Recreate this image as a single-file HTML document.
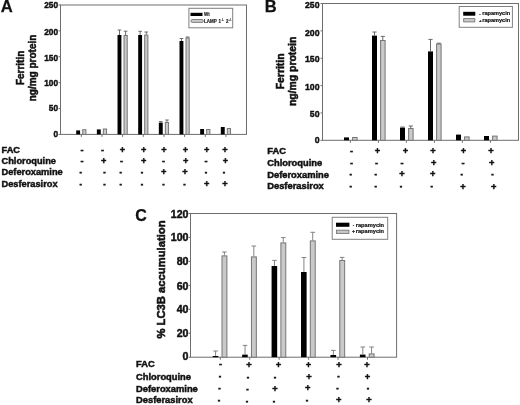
<!DOCTYPE html>
<html lang="en">
<head>
<meta charset="utf-8">
<title>Figure</title>
<style>
html,body{margin:0;padding:0;background:#fff;}
body{width:520px;height:405px;overflow:hidden;}
svg{display:block;filter:blur(0.35px);}
svg text{font-family:"Liberation Sans", Arial, Helvetica, sans-serif;fill:#111;}
</style>
</head>
<body>
<svg width="520" height="405" viewBox="0 0 520 405">
<rect x="0" y="0" width="520" height="405" fill="#fff"/>
<rect x="60.5" y="5" width="186.00" height="129.40" fill="none" stroke="#6e6e6e" stroke-width="1"/>
<line x1="58.5" y1="134.40" x2="60.5" y2="134.40" stroke="#6e6e6e" stroke-width="1"/>
<text transform="translate(58.10 137.03) scale(1 1.12)" font-size="8.3" font-weight="bold" text-anchor="end" stroke="#111" stroke-width="0.4">0</text>
<line x1="58.5" y1="108.52" x2="60.5" y2="108.52" stroke="#6e6e6e" stroke-width="1"/>
<text transform="translate(58.10 111.43) scale(1 1.12)" font-size="8.3" font-weight="bold" text-anchor="end" stroke="#111" stroke-width="0.4">50</text>
<line x1="58.5" y1="82.64" x2="60.5" y2="82.64" stroke="#6e6e6e" stroke-width="1"/>
<text transform="translate(58.10 86.23) scale(1 1.12)" font-size="8.3" font-weight="bold" text-anchor="end" stroke="#111" stroke-width="0.4">100</text>
<line x1="58.5" y1="56.76" x2="60.5" y2="56.76" stroke="#6e6e6e" stroke-width="1"/>
<text transform="translate(58.10 60.63) scale(1 1.12)" font-size="8.3" font-weight="bold" text-anchor="end" stroke="#111" stroke-width="0.4">150</text>
<line x1="58.5" y1="30.88" x2="60.5" y2="30.88" stroke="#6e6e6e" stroke-width="1"/>
<text transform="translate(58.10 34.93) scale(1 1.12)" font-size="8.3" font-weight="bold" text-anchor="end" stroke="#111" stroke-width="0.4">200</text>
<line x1="58.5" y1="5.00" x2="60.5" y2="5.00" stroke="#6e6e6e" stroke-width="1"/>
<text transform="translate(58.10 8.03) scale(1 1.12)" font-size="8.3" font-weight="bold" text-anchor="end" stroke="#111" stroke-width="0.4">250</text>
<line x1="81.30" y1="134.4" x2="81.30" y2="136.9" stroke="#6e6e6e" stroke-width="1"/>
<rect x="76.20" y="130.40" width="3.90" height="4.00" fill="#000"/>
<rect x="82.70" y="129.70" width="3.20" height="4.70" fill="#c9c9c9" stroke="#767676" stroke-width="1"/>
<line x1="101.96" y1="134.4" x2="101.96" y2="136.9" stroke="#6e6e6e" stroke-width="1"/>
<rect x="96.86" y="129.40" width="3.90" height="5.00" fill="#000"/>
<rect x="103.36" y="129.00" width="3.20" height="5.40" fill="#c9c9c9" stroke="#767676" stroke-width="1"/>
<line x1="122.62" y1="134.4" x2="122.62" y2="136.9" stroke="#6e6e6e" stroke-width="1"/>
<rect x="117.52" y="35.00" width="3.90" height="99.40" fill="#000"/>
<rect x="124.02" y="35.50" width="3.20" height="98.90" fill="#c9c9c9" stroke="#767676" stroke-width="1"/>
<path d="M119.47 35.00V30.00M117.67 30.00H121.27" stroke="#5c5c5c" stroke-width="0.9" fill="none"/>
<path d="M125.62 35.00V31.20M123.82 31.20H127.42" stroke="#5c5c5c" stroke-width="0.9" fill="none"/>
<line x1="143.28" y1="134.4" x2="143.28" y2="136.9" stroke="#6e6e6e" stroke-width="1"/>
<rect x="138.18" y="35.00" width="3.90" height="99.40" fill="#000"/>
<rect x="144.68" y="35.10" width="3.20" height="99.30" fill="#c9c9c9" stroke="#767676" stroke-width="1"/>
<path d="M140.13 35.00V31.30M138.33 31.30H141.93" stroke="#5c5c5c" stroke-width="0.9" fill="none"/>
<path d="M146.28 34.60V32.00M144.48 32.00H148.08" stroke="#5c5c5c" stroke-width="0.9" fill="none"/>
<line x1="163.94" y1="134.4" x2="163.94" y2="136.9" stroke="#6e6e6e" stroke-width="1"/>
<rect x="158.84" y="122.60" width="3.90" height="11.80" fill="#000"/>
<rect x="165.34" y="122.50" width="3.20" height="11.90" fill="#c9c9c9" stroke="#767676" stroke-width="1"/>
<path d="M160.79 122.60V121.60M158.99 121.60H162.59" stroke="#5c5c5c" stroke-width="0.9" fill="none"/>
<path d="M166.94 122.00V120.00M165.14 120.00H168.74" stroke="#5c5c5c" stroke-width="0.9" fill="none"/>
<line x1="184.60" y1="134.4" x2="184.60" y2="136.9" stroke="#6e6e6e" stroke-width="1"/>
<rect x="179.50" y="41.00" width="3.90" height="93.40" fill="#000"/>
<rect x="186.00" y="38.00" width="3.20" height="96.40" fill="#c9c9c9" stroke="#767676" stroke-width="1"/>
<path d="M181.45 41.00V38.50M179.65 38.50H183.25" stroke="#5c5c5c" stroke-width="0.9" fill="none"/>
<path d="M187.60 37.50V37.00M185.80 37.00H189.40" stroke="#5c5c5c" stroke-width="0.9" fill="none"/>
<line x1="205.26" y1="134.4" x2="205.26" y2="136.9" stroke="#6e6e6e" stroke-width="1"/>
<rect x="200.16" y="129.00" width="3.90" height="5.40" fill="#000"/>
<rect x="206.66" y="129.50" width="3.20" height="4.90" fill="#c9c9c9" stroke="#767676" stroke-width="1"/>
<line x1="225.92" y1="134.4" x2="225.92" y2="136.9" stroke="#6e6e6e" stroke-width="1"/>
<rect x="220.82" y="127.00" width="3.90" height="7.40" fill="#000"/>
<rect x="227.32" y="128.50" width="3.20" height="5.90" fill="#c9c9c9" stroke="#767676" stroke-width="1"/>
<rect x="188.9" y="8.3" width="43.8" height="19.5" fill="#fff" stroke="#808080" stroke-width="1"/>
<rect x="190.5" y="12.8" width="12" height="3.2" fill="#000"/>
<rect x="191" y="19.5" width="12.3" height="2.9" rx="1.2" fill="#c9c9c9" stroke="#767676" stroke-width="0.9"/>
<text transform="translate(203.90 16.20)" font-size="4.5" font-weight="bold" text-anchor="start" stroke="#111" stroke-width="0.12">Wt</text>
<text font-size="4.5" font-weight="bold" stroke="#111" stroke-width="0.12"><tspan x="203.9" y="22.6">LAMP</tspan><tspan x="218.6" y="22.6">1</tspan><tspan x="221.4" y="21.0" font-size="2.8">-/-</tspan><tspan x="226" y="22.6">2</tspan><tspan x="228.8" y="21.0" font-size="2.8">-/-</tspan></text>
<text transform="translate(24.20 67.90) rotate(-90)" font-size="10" font-weight="bold" text-anchor="middle" stroke="#111" stroke-width="0.5">Ferritin</text>
<text transform="translate(36.30 68.00) rotate(-90)" font-size="10" font-weight="bold" text-anchor="middle" stroke="#111" stroke-width="0.5">ng/mg protein</text>
<text transform="translate(0.75 12.00)" font-size="16.6" font-weight="bold" text-anchor="start" stroke="#111" stroke-width="0.25">A</text>
<text transform="translate(1.50 152.50)" font-size="9.25" font-weight="bold" text-anchor="start" stroke="#111" stroke-width="0.46">FAC</text>
<text transform="translate(1.50 164.05)" font-size="9.25" font-weight="bold" text-anchor="start" stroke="#111" stroke-width="0.46">Chloroquine</text>
<text transform="translate(1.50 175.45)" font-size="9.25" font-weight="bold" text-anchor="start" stroke="#111" stroke-width="0.46">Deferoxamine</text>
<text transform="translate(1.50 187.45)" font-size="9.25" font-weight="bold" text-anchor="start" stroke="#111" stroke-width="0.46">Desferasirox</text>
<text transform="translate(82.05 153.04)" font-size="9.2" font-weight="bold" text-anchor="middle" stroke="#111" stroke-width="0.45">-</text>
<text transform="translate(102.65 153.04)" font-size="9.2" font-weight="bold" text-anchor="middle" stroke="#111" stroke-width="0.45">-</text>
<text transform="translate(122.45 152.93)" font-size="9.2" font-weight="bold" text-anchor="middle" stroke="#111" stroke-width="0.45">+</text>
<text transform="translate(143.65 152.93)" font-size="9.2" font-weight="bold" text-anchor="middle" stroke="#111" stroke-width="0.45">+</text>
<text transform="translate(164.05 152.93)" font-size="9.2" font-weight="bold" text-anchor="middle" stroke="#111" stroke-width="0.45">+</text>
<text transform="translate(185.45 152.93)" font-size="9.2" font-weight="bold" text-anchor="middle" stroke="#111" stroke-width="0.45">+</text>
<text transform="translate(206.65 152.93)" font-size="9.2" font-weight="bold" text-anchor="middle" stroke="#111" stroke-width="0.45">+</text>
<text transform="translate(225.05 152.93)" font-size="9.2" font-weight="bold" text-anchor="middle" stroke="#111" stroke-width="0.45">+</text>
<text transform="translate(82.05 164.44)" font-size="9.2" font-weight="bold" text-anchor="middle" stroke="#111" stroke-width="0.45">-</text>
<text transform="translate(103.65 164.33)" font-size="9.2" font-weight="bold" text-anchor="middle" stroke="#111" stroke-width="0.45">+</text>
<text transform="translate(121.65 164.44)" font-size="9.2" font-weight="bold" text-anchor="middle" stroke="#111" stroke-width="0.45">-</text>
<text transform="translate(143.65 164.33)" font-size="9.2" font-weight="bold" text-anchor="middle" stroke="#111" stroke-width="0.45">+</text>
<text transform="translate(163.65 164.44)" font-size="9.2" font-weight="bold" text-anchor="middle" stroke="#111" stroke-width="0.45">-</text>
<text transform="translate(185.65 164.33)" font-size="9.2" font-weight="bold" text-anchor="middle" stroke="#111" stroke-width="0.45">+</text>
<text transform="translate(206.05 164.44)" font-size="9.2" font-weight="bold" text-anchor="middle" stroke="#111" stroke-width="0.45">-</text>
<text transform="translate(225.45 164.33)" font-size="9.2" font-weight="bold" text-anchor="middle" stroke="#111" stroke-width="0.45">+</text>
<text transform="translate(80.64 174.85) scale(0.8 1.0)" font-size="9.2" font-weight="bold" text-anchor="middle" stroke="#111" stroke-width="0.5">-</text>
<text transform="translate(104.44 174.85) scale(0.8 1.0)" font-size="9.2" font-weight="bold" text-anchor="middle" stroke="#111" stroke-width="0.5">-</text>
<text transform="translate(120.64 174.85) scale(0.8 1.0)" font-size="9.2" font-weight="bold" text-anchor="middle" stroke="#111" stroke-width="0.5">-</text>
<text transform="translate(142.04 174.85) scale(0.8 1.0)" font-size="9.2" font-weight="bold" text-anchor="middle" stroke="#111" stroke-width="0.5">-</text>
<text transform="translate(163.65 175.23)" font-size="9.2" font-weight="bold" text-anchor="middle" stroke="#111" stroke-width="0.45">+</text>
<text transform="translate(185.05 175.23)" font-size="9.2" font-weight="bold" text-anchor="middle" stroke="#111" stroke-width="0.45">+</text>
<text transform="translate(206.04 174.85) scale(0.8 1.0)" font-size="9.2" font-weight="bold" text-anchor="middle" stroke="#111" stroke-width="0.5">-</text>
<text transform="translate(224.04 174.85) scale(0.8 1.0)" font-size="9.2" font-weight="bold" text-anchor="middle" stroke="#111" stroke-width="0.5">-</text>
<text transform="translate(80.64 187.05) scale(0.8 1.0)" font-size="9.2" font-weight="bold" text-anchor="middle" stroke="#111" stroke-width="0.5">-</text>
<text transform="translate(104.44 187.05) scale(0.8 1.0)" font-size="9.2" font-weight="bold" text-anchor="middle" stroke="#111" stroke-width="0.5">-</text>
<text transform="translate(120.64 187.05) scale(0.8 1.0)" font-size="9.2" font-weight="bold" text-anchor="middle" stroke="#111" stroke-width="0.5">-</text>
<text transform="translate(142.04 187.05) scale(0.8 1.0)" font-size="9.2" font-weight="bold" text-anchor="middle" stroke="#111" stroke-width="0.5">-</text>
<text transform="translate(163.44 187.05) scale(0.8 1.0)" font-size="9.2" font-weight="bold" text-anchor="middle" stroke="#111" stroke-width="0.5">-</text>
<text transform="translate(184.44 187.05) scale(0.8 1.0)" font-size="9.2" font-weight="bold" text-anchor="middle" stroke="#111" stroke-width="0.5">-</text>
<text transform="translate(206.65 187.43)" font-size="9.2" font-weight="bold" text-anchor="middle" stroke="#111" stroke-width="0.45">+</text>
<text transform="translate(225.05 187.43)" font-size="9.2" font-weight="bold" text-anchor="middle" stroke="#111" stroke-width="0.45">+</text>
<rect x="322.5" y="3.5" width="196.00" height="136.80" fill="none" stroke="#6e6e6e" stroke-width="1"/>
<line x1="320.5" y1="140.30" x2="322.5" y2="140.30" stroke="#6e6e6e" stroke-width="1"/>
<text transform="translate(319.50 142.63) scale(1 1.1)" font-size="8.7" font-weight="bold" text-anchor="end" stroke="#111" stroke-width="0.4">0</text>
<line x1="320.5" y1="112.94" x2="322.5" y2="112.94" stroke="#6e6e6e" stroke-width="1"/>
<text transform="translate(319.50 117.03) scale(1 1.1)" font-size="8.7" font-weight="bold" text-anchor="end" stroke="#111" stroke-width="0.4">50</text>
<line x1="320.5" y1="85.58" x2="322.5" y2="85.58" stroke="#6e6e6e" stroke-width="1"/>
<text transform="translate(319.50 90.03) scale(1 1.1)" font-size="8.7" font-weight="bold" text-anchor="end" stroke="#111" stroke-width="0.4">100</text>
<line x1="320.5" y1="58.22" x2="322.5" y2="58.22" stroke="#6e6e6e" stroke-width="1"/>
<text transform="translate(319.50 62.33) scale(1 1.1)" font-size="8.7" font-weight="bold" text-anchor="end" stroke="#111" stroke-width="0.4">150</text>
<line x1="320.5" y1="30.86" x2="322.5" y2="30.86" stroke="#6e6e6e" stroke-width="1"/>
<text transform="translate(319.50 36.33) scale(1 1.1)" font-size="8.7" font-weight="bold" text-anchor="end" stroke="#111" stroke-width="0.4">200</text>
<line x1="320.5" y1="3.50" x2="322.5" y2="3.50" stroke="#6e6e6e" stroke-width="1"/>
<text transform="translate(319.50 7.83) scale(1 1.1)" font-size="8.7" font-weight="bold" text-anchor="end" stroke="#111" stroke-width="0.4">250</text>
<line x1="350.40" y1="140.3" x2="350.40" y2="142.8" stroke="#6e6e6e" stroke-width="1"/>
<rect x="344.00" y="137.40" width="5.00" height="2.90" fill="#000"/>
<rect x="352.60" y="137.50" width="4.50" height="2.80" fill="#c9c9c9" stroke="#767676" stroke-width="1"/>
<line x1="378.40" y1="140.3" x2="378.40" y2="142.8" stroke="#6e6e6e" stroke-width="1"/>
<rect x="372.00" y="35.60" width="5.00" height="104.70" fill="#000"/>
<rect x="380.60" y="40.50" width="4.50" height="99.80" fill="#c9c9c9" stroke="#767676" stroke-width="1"/>
<path d="M374.50 35.60V32.00M372.40 32.00H376.60" stroke="#5c5c5c" stroke-width="0.9" fill="none"/>
<path d="M382.80 40.00V36.40M380.70 36.40H384.90" stroke="#5c5c5c" stroke-width="0.9" fill="none"/>
<line x1="406.40" y1="140.3" x2="406.40" y2="142.8" stroke="#6e6e6e" stroke-width="1"/>
<rect x="400.00" y="127.60" width="5.00" height="12.70" fill="#000"/>
<rect x="408.60" y="128.50" width="4.50" height="11.80" fill="#c9c9c9" stroke="#767676" stroke-width="1"/>
<path d="M402.50 127.60V127.00M400.40 127.00H404.60" stroke="#5c5c5c" stroke-width="0.9" fill="none"/>
<path d="M410.80 128.00V126.00M408.70 126.00H412.90" stroke="#5c5c5c" stroke-width="0.9" fill="none"/>
<line x1="434.40" y1="140.3" x2="434.40" y2="142.8" stroke="#6e6e6e" stroke-width="1"/>
<rect x="428.00" y="51.40" width="5.00" height="88.90" fill="#000"/>
<rect x="436.60" y="44.10" width="4.50" height="96.20" fill="#c9c9c9" stroke="#767676" stroke-width="1"/>
<path d="M430.50 51.40V39.40M428.40 39.40H432.60" stroke="#5c5c5c" stroke-width="0.9" fill="none"/>
<path d="M438.80 43.60V43.20M436.70 43.20H440.90" stroke="#5c5c5c" stroke-width="0.9" fill="none"/>
<line x1="462.40" y1="140.3" x2="462.40" y2="142.8" stroke="#6e6e6e" stroke-width="1"/>
<rect x="456.00" y="134.60" width="5.00" height="5.70" fill="#000"/>
<rect x="464.60" y="136.90" width="4.50" height="3.40" fill="#c9c9c9" stroke="#767676" stroke-width="1"/>
<line x1="490.40" y1="140.3" x2="490.40" y2="142.8" stroke="#6e6e6e" stroke-width="1"/>
<rect x="484.00" y="136.00" width="5.00" height="4.30" fill="#000"/>
<rect x="492.60" y="136.10" width="4.50" height="4.20" fill="#c9c9c9" stroke="#767676" stroke-width="1"/>
<rect x="459.2" y="6.5" width="53.2" height="20.8" fill="#fff" stroke="#808080" stroke-width="1"/>
<rect x="463.2" y="11.8" width="12.1" height="3.9" fill="#000"/>
<rect x="463.7" y="18.6" width="11.1" height="3.3" fill="#c9c9c9" stroke="#767676" stroke-width="0.9"/>
<text transform="translate(479.90 15.10)" font-size="4.2" font-weight="bold" text-anchor="middle" stroke="#111" stroke-width="0.2">-</text>
<text transform="translate(482.20 15.35)" font-size="5.6" font-weight="bold" text-anchor="start" stroke="#111" stroke-width="0.2">rapamycin</text>
<text transform="translate(480.20 21.50)" font-size="4.4" font-weight="bold" text-anchor="middle" stroke="#111" stroke-width="0.2">+</text>
<text transform="translate(482.20 21.50)" font-size="5.6" font-weight="bold" text-anchor="start" stroke="#111" stroke-width="0.2">rapamycin</text>
<text transform="translate(283.60 71.40) rotate(-90)" font-size="10.4" font-weight="bold" text-anchor="middle" stroke="#111" stroke-width="0.52">Ferritin</text>
<text transform="translate(295.80 71.40) rotate(-90)" font-size="10.4" font-weight="bold" text-anchor="middle" stroke="#111" stroke-width="0.52">ng/mg protein</text>
<text transform="translate(264.70 11.85)" font-size="16.5" font-weight="bold" text-anchor="start" stroke="#111" stroke-width="0.25">B</text>
<text transform="translate(267.20 153.80)" font-size="9.35" font-weight="bold" text-anchor="start" stroke="#111" stroke-width="0.47">FAC</text>
<text transform="translate(267.20 165.50)" font-size="9.35" font-weight="bold" text-anchor="start" stroke="#111" stroke-width="0.47">Chloroquine</text>
<text transform="translate(267.20 177.50)" font-size="9.35" font-weight="bold" text-anchor="start" stroke="#111" stroke-width="0.47">Deferoxamine</text>
<text transform="translate(267.20 189.20)" font-size="9.35" font-weight="bold" text-anchor="start" stroke="#111" stroke-width="0.47">Desferasirox</text>
<text transform="translate(351.65 153.96)" font-size="9.3" font-weight="bold" text-anchor="middle" stroke="#111" stroke-width="0.45">-</text>
<text transform="translate(377.45 153.86)" font-size="9.3" font-weight="bold" text-anchor="middle" stroke="#111" stroke-width="0.45">+</text>
<text transform="translate(405.45 153.86)" font-size="9.3" font-weight="bold" text-anchor="middle" stroke="#111" stroke-width="0.45">+</text>
<text transform="translate(433.05 153.86)" font-size="9.3" font-weight="bold" text-anchor="middle" stroke="#111" stroke-width="0.45">+</text>
<text transform="translate(463.45 153.86)" font-size="9.3" font-weight="bold" text-anchor="middle" stroke="#111" stroke-width="0.45">+</text>
<text transform="translate(491.05 153.86)" font-size="9.3" font-weight="bold" text-anchor="middle" stroke="#111" stroke-width="0.45">+</text>
<text transform="translate(351.65 165.76)" font-size="9.3" font-weight="bold" text-anchor="middle" stroke="#111" stroke-width="0.45">-</text>
<text transform="translate(376.65 165.76)" font-size="9.3" font-weight="bold" text-anchor="middle" stroke="#111" stroke-width="0.45">-</text>
<text transform="translate(402.05 165.76)" font-size="9.3" font-weight="bold" text-anchor="middle" stroke="#111" stroke-width="0.45">-</text>
<text transform="translate(433.65 165.66)" font-size="9.3" font-weight="bold" text-anchor="middle" stroke="#111" stroke-width="0.45">+</text>
<text transform="translate(463.05 165.76)" font-size="9.3" font-weight="bold" text-anchor="middle" stroke="#111" stroke-width="0.45">-</text>
<text transform="translate(491.65 165.66)" font-size="9.3" font-weight="bold" text-anchor="middle" stroke="#111" stroke-width="0.45">+</text>
<text transform="translate(350.64 176.67) scale(0.8 1.0)" font-size="9.3" font-weight="bold" text-anchor="middle" stroke="#111" stroke-width="0.5">-</text>
<text transform="translate(375.64 176.67) scale(0.8 1.0)" font-size="9.3" font-weight="bold" text-anchor="middle" stroke="#111" stroke-width="0.5">-</text>
<text transform="translate(402.05 177.36)" font-size="9.3" font-weight="bold" text-anchor="middle" stroke="#111" stroke-width="0.45">+</text>
<text transform="translate(432.65 177.36)" font-size="9.3" font-weight="bold" text-anchor="middle" stroke="#111" stroke-width="0.45">+</text>
<text transform="translate(461.64 176.67) scale(0.8 1.0)" font-size="9.3" font-weight="bold" text-anchor="middle" stroke="#111" stroke-width="0.5">-</text>
<text transform="translate(492.44 176.67) scale(0.8 1.0)" font-size="9.3" font-weight="bold" text-anchor="middle" stroke="#111" stroke-width="0.5">-</text>
<text transform="translate(350.64 188.87) scale(0.8 1.0)" font-size="9.3" font-weight="bold" text-anchor="middle" stroke="#111" stroke-width="0.5">-</text>
<text transform="translate(375.64 188.87) scale(0.8 1.0)" font-size="9.3" font-weight="bold" text-anchor="middle" stroke="#111" stroke-width="0.5">-</text>
<text transform="translate(401.04 188.87) scale(0.8 1.0)" font-size="9.3" font-weight="bold" text-anchor="middle" stroke="#111" stroke-width="0.5">-</text>
<text transform="translate(431.64 188.87) scale(0.8 1.0)" font-size="9.3" font-weight="bold" text-anchor="middle" stroke="#111" stroke-width="0.5">-</text>
<text transform="translate(463.05 189.56)" font-size="9.3" font-weight="bold" text-anchor="middle" stroke="#111" stroke-width="0.45">+</text>
<text transform="translate(493.65 189.56)" font-size="9.3" font-weight="bold" text-anchor="middle" stroke="#111" stroke-width="0.45">+</text>
<rect x="190.5" y="213.5" width="206.10" height="143.70" fill="none" stroke="#6e6e6e" stroke-width="1"/>
<line x1="188.5" y1="357.20" x2="190.5" y2="357.20" stroke="#6e6e6e" stroke-width="1"/>
<text transform="translate(188.50 360.08) scale(1 1.05)" font-size="10.6" font-weight="bold" text-anchor="end" stroke="#111" stroke-width="0.45">0</text>
<line x1="188.5" y1="333.25" x2="190.5" y2="333.25" stroke="#6e6e6e" stroke-width="1"/>
<text transform="translate(188.50 336.98) scale(1 1.05)" font-size="10.6" font-weight="bold" text-anchor="end" stroke="#111" stroke-width="0.45">20</text>
<line x1="188.5" y1="309.30" x2="190.5" y2="309.30" stroke="#6e6e6e" stroke-width="1"/>
<text transform="translate(188.50 313.18) scale(1 1.05)" font-size="10.6" font-weight="bold" text-anchor="end" stroke="#111" stroke-width="0.45">40</text>
<line x1="188.5" y1="285.35" x2="190.5" y2="285.35" stroke="#6e6e6e" stroke-width="1"/>
<text transform="translate(188.50 289.58) scale(1 1.05)" font-size="10.6" font-weight="bold" text-anchor="end" stroke="#111" stroke-width="0.45">60</text>
<line x1="188.5" y1="261.40" x2="190.5" y2="261.40" stroke="#6e6e6e" stroke-width="1"/>
<text transform="translate(188.50 265.28) scale(1 1.05)" font-size="10.6" font-weight="bold" text-anchor="end" stroke="#111" stroke-width="0.45">80</text>
<line x1="188.5" y1="237.45" x2="190.5" y2="237.45" stroke="#6e6e6e" stroke-width="1"/>
<text transform="translate(188.50 241.23) scale(1 1.05)" font-size="10.6" font-weight="bold" text-anchor="end" stroke="#111" stroke-width="0.45">100</text>
<line x1="188.5" y1="213.50" x2="190.5" y2="213.50" stroke="#6e6e6e" stroke-width="1"/>
<text transform="translate(188.50 217.73) scale(1 1.05)" font-size="10.6" font-weight="bold" text-anchor="end" stroke="#111" stroke-width="0.45">120</text>
<line x1="220.30" y1="357.2" x2="220.30" y2="359.7" stroke="#6e6e6e" stroke-width="1"/>
<rect x="212.70" y="356.00" width="5.60" height="1.20" fill="#000"/>
<rect x="222.00" y="255.90" width="4.90" height="101.30" fill="#c9c9c9" stroke="#767676" stroke-width="1"/>
<path d="M215.60 356.00V351.00M213.30 351.00H217.90" stroke="#777" stroke-width="0.9" fill="none"/>
<path d="M224.40 255.40V252.00M222.10 252.00H226.70" stroke="#777" stroke-width="0.9" fill="none"/>
<line x1="249.74" y1="357.2" x2="249.74" y2="359.7" stroke="#6e6e6e" stroke-width="1"/>
<rect x="242.14" y="354.60" width="5.60" height="2.60" fill="#000"/>
<rect x="251.44" y="256.90" width="4.90" height="100.30" fill="#c9c9c9" stroke="#767676" stroke-width="1"/>
<path d="M245.04 354.60V345.40M242.74 345.40H247.34" stroke="#777" stroke-width="0.9" fill="none"/>
<path d="M253.84 256.40V246.00M251.54 246.00H256.14" stroke="#777" stroke-width="0.9" fill="none"/>
<line x1="279.18" y1="357.2" x2="279.18" y2="359.7" stroke="#6e6e6e" stroke-width="1"/>
<rect x="271.58" y="266.00" width="5.60" height="91.20" fill="#000"/>
<rect x="280.88" y="242.90" width="4.90" height="114.30" fill="#c9c9c9" stroke="#767676" stroke-width="1"/>
<path d="M274.48 266.00V260.40M272.18 260.40H276.78" stroke="#777" stroke-width="0.9" fill="none"/>
<path d="M283.28 242.40V237.60M280.98 237.60H285.58" stroke="#777" stroke-width="0.9" fill="none"/>
<line x1="308.62" y1="357.2" x2="308.62" y2="359.7" stroke="#6e6e6e" stroke-width="1"/>
<rect x="301.02" y="272.00" width="5.60" height="85.20" fill="#000"/>
<rect x="310.32" y="240.90" width="4.90" height="116.30" fill="#c9c9c9" stroke="#767676" stroke-width="1"/>
<path d="M303.92 272.00V257.50M301.62 257.50H306.22" stroke="#777" stroke-width="0.9" fill="none"/>
<path d="M312.72 240.40V232.30M310.42 232.30H315.02" stroke="#777" stroke-width="0.9" fill="none"/>
<line x1="338.06" y1="357.2" x2="338.06" y2="359.7" stroke="#6e6e6e" stroke-width="1"/>
<rect x="330.46" y="355.00" width="5.60" height="2.20" fill="#000"/>
<rect x="339.76" y="260.50" width="4.90" height="96.70" fill="#c9c9c9" stroke="#767676" stroke-width="1"/>
<path d="M333.36 355.00V350.40M331.06 350.40H335.66" stroke="#777" stroke-width="0.9" fill="none"/>
<path d="M342.16 260.00V257.40M339.86 257.40H344.46" stroke="#777" stroke-width="0.9" fill="none"/>
<line x1="367.50" y1="357.2" x2="367.50" y2="359.7" stroke="#6e6e6e" stroke-width="1"/>
<rect x="359.90" y="354.60" width="5.60" height="2.60" fill="#000"/>
<rect x="369.20" y="353.90" width="4.90" height="3.30" fill="#c9c9c9" stroke="#767676" stroke-width="1"/>
<path d="M362.80 354.60V347.00M360.50 347.00H365.10" stroke="#777" stroke-width="0.9" fill="none"/>
<path d="M371.60 353.40V347.00M369.30 347.00H373.90" stroke="#777" stroke-width="0.9" fill="none"/>
<rect x="332.2" y="217.3" width="55.5" height="22" fill="#fff" stroke="#808080" stroke-width="1"/>
<rect x="336" y="222.7" width="13.4" height="4.1" fill="#000"/>
<rect x="336.5" y="230.2" width="12.4" height="3.2" fill="#c9c9c9" stroke="#767676" stroke-width="0.9"/>
<text transform="translate(353.40 226.20)" font-size="4.4" font-weight="bold" text-anchor="middle" stroke="#111" stroke-width="0.2">-</text>
<text transform="translate(355.70 226.50)" font-size="5.68" font-weight="bold" text-anchor="start" stroke="#111" stroke-width="0.2">rapamycin</text>
<text transform="translate(353.60 233.00)" font-size="5.2" font-weight="bold" text-anchor="middle" stroke="#111" stroke-width="0.2">+</text>
<text transform="translate(355.70 233.00)" font-size="5.68" font-weight="bold" text-anchor="start" stroke="#111" stroke-width="0.2">rapamycin</text>
<text transform="translate(165.20 279.50) rotate(-90)" font-size="11.25" font-weight="bold" text-anchor="middle" stroke="#111" stroke-width="0.56">% LC3B accumulation</text>
<text transform="translate(135.30 220.50)" font-size="16" font-weight="bold" text-anchor="start" stroke="#111" stroke-width="0.25">C</text>
<text transform="translate(136.00 367.40)" font-size="9.35" font-weight="bold" text-anchor="start" stroke="#111" stroke-width="0.47">FAC</text>
<text transform="translate(136.00 379.50)" font-size="9.35" font-weight="bold" text-anchor="start" stroke="#111" stroke-width="0.47">Chloroquine</text>
<text transform="translate(136.00 391.50)" font-size="9.35" font-weight="bold" text-anchor="start" stroke="#111" stroke-width="0.47">Deferoxamine</text>
<text transform="translate(136.00 403.00)" font-size="9.35" font-weight="bold" text-anchor="start" stroke="#111" stroke-width="0.47">Desferasirox</text>
<text transform="translate(220.45 367.46)" font-size="9.3" font-weight="bold" text-anchor="middle" stroke="#111" stroke-width="0.45">-</text>
<text transform="translate(249.05 368.16)" font-size="9.3" font-weight="bold" text-anchor="middle" stroke="#111" stroke-width="0.45">+</text>
<text transform="translate(278.45 368.16)" font-size="9.3" font-weight="bold" text-anchor="middle" stroke="#111" stroke-width="0.45">+</text>
<text transform="translate(308.45 367.96)" font-size="9.3" font-weight="bold" text-anchor="middle" stroke="#111" stroke-width="0.45">+</text>
<text transform="translate(339.05 367.96)" font-size="9.3" font-weight="bold" text-anchor="middle" stroke="#111" stroke-width="0.45">+</text>
<text transform="translate(366.85 367.96)" font-size="9.3" font-weight="bold" text-anchor="middle" stroke="#111" stroke-width="0.45">+</text>
<text transform="translate(220.04 378.97) scale(0.8 1.0)" font-size="9.3" font-weight="bold" text-anchor="middle" stroke="#111" stroke-width="0.5">-</text>
<text transform="translate(248.04 379.97) scale(0.8 1.0)" font-size="9.3" font-weight="bold" text-anchor="middle" stroke="#111" stroke-width="0.5">-</text>
<text transform="translate(275.04 379.97) scale(0.8 1.0)" font-size="9.3" font-weight="bold" text-anchor="middle" stroke="#111" stroke-width="0.5">-</text>
<text transform="translate(309.05 379.56)" font-size="9.3" font-weight="bold" text-anchor="middle" stroke="#111" stroke-width="0.45">+</text>
<text transform="translate(338.44 379.37) scale(0.8 1.0)" font-size="9.3" font-weight="bold" text-anchor="middle" stroke="#111" stroke-width="0.5">-</text>
<text transform="translate(367.55 379.56)" font-size="9.3" font-weight="bold" text-anchor="middle" stroke="#111" stroke-width="0.45">+</text>
<text transform="translate(219.44 390.97) scale(0.8 1.0)" font-size="9.3" font-weight="bold" text-anchor="middle" stroke="#111" stroke-width="0.5">-</text>
<text transform="translate(247.44 391.97) scale(0.8 1.0)" font-size="9.3" font-weight="bold" text-anchor="middle" stroke="#111" stroke-width="0.5">-</text>
<text transform="translate(275.05 392.16)" font-size="9.3" font-weight="bold" text-anchor="middle" stroke="#111" stroke-width="0.45">+</text>
<text transform="translate(307.65 391.36)" font-size="9.3" font-weight="bold" text-anchor="middle" stroke="#111" stroke-width="0.45">+</text>
<text transform="translate(337.44 391.37) scale(0.8 1.0)" font-size="9.3" font-weight="bold" text-anchor="middle" stroke="#111" stroke-width="0.5">-</text>
<text transform="translate(368.04 391.37) scale(0.8 1.0)" font-size="9.3" font-weight="bold" text-anchor="middle" stroke="#111" stroke-width="0.5">-</text>
<text transform="translate(219.04 402.97) scale(0.8 1.0)" font-size="9.3" font-weight="bold" text-anchor="middle" stroke="#111" stroke-width="0.5">-</text>
<text transform="translate(247.04 403.97) scale(0.8 1.0)" font-size="9.3" font-weight="bold" text-anchor="middle" stroke="#111" stroke-width="0.5">-</text>
<text transform="translate(274.04 403.97) scale(0.8 1.0)" font-size="9.3" font-weight="bold" text-anchor="middle" stroke="#111" stroke-width="0.5">-</text>
<text transform="translate(307.04 403.37) scale(0.8 1.0)" font-size="9.3" font-weight="bold" text-anchor="middle" stroke="#111" stroke-width="0.5">-</text>
<text transform="translate(338.65 402.96)" font-size="9.3" font-weight="bold" text-anchor="middle" stroke="#111" stroke-width="0.45">+</text>
<text transform="translate(369.05 402.96)" font-size="9.3" font-weight="bold" text-anchor="middle" stroke="#111" stroke-width="0.45">+</text>
</svg>
</body>
</html>
